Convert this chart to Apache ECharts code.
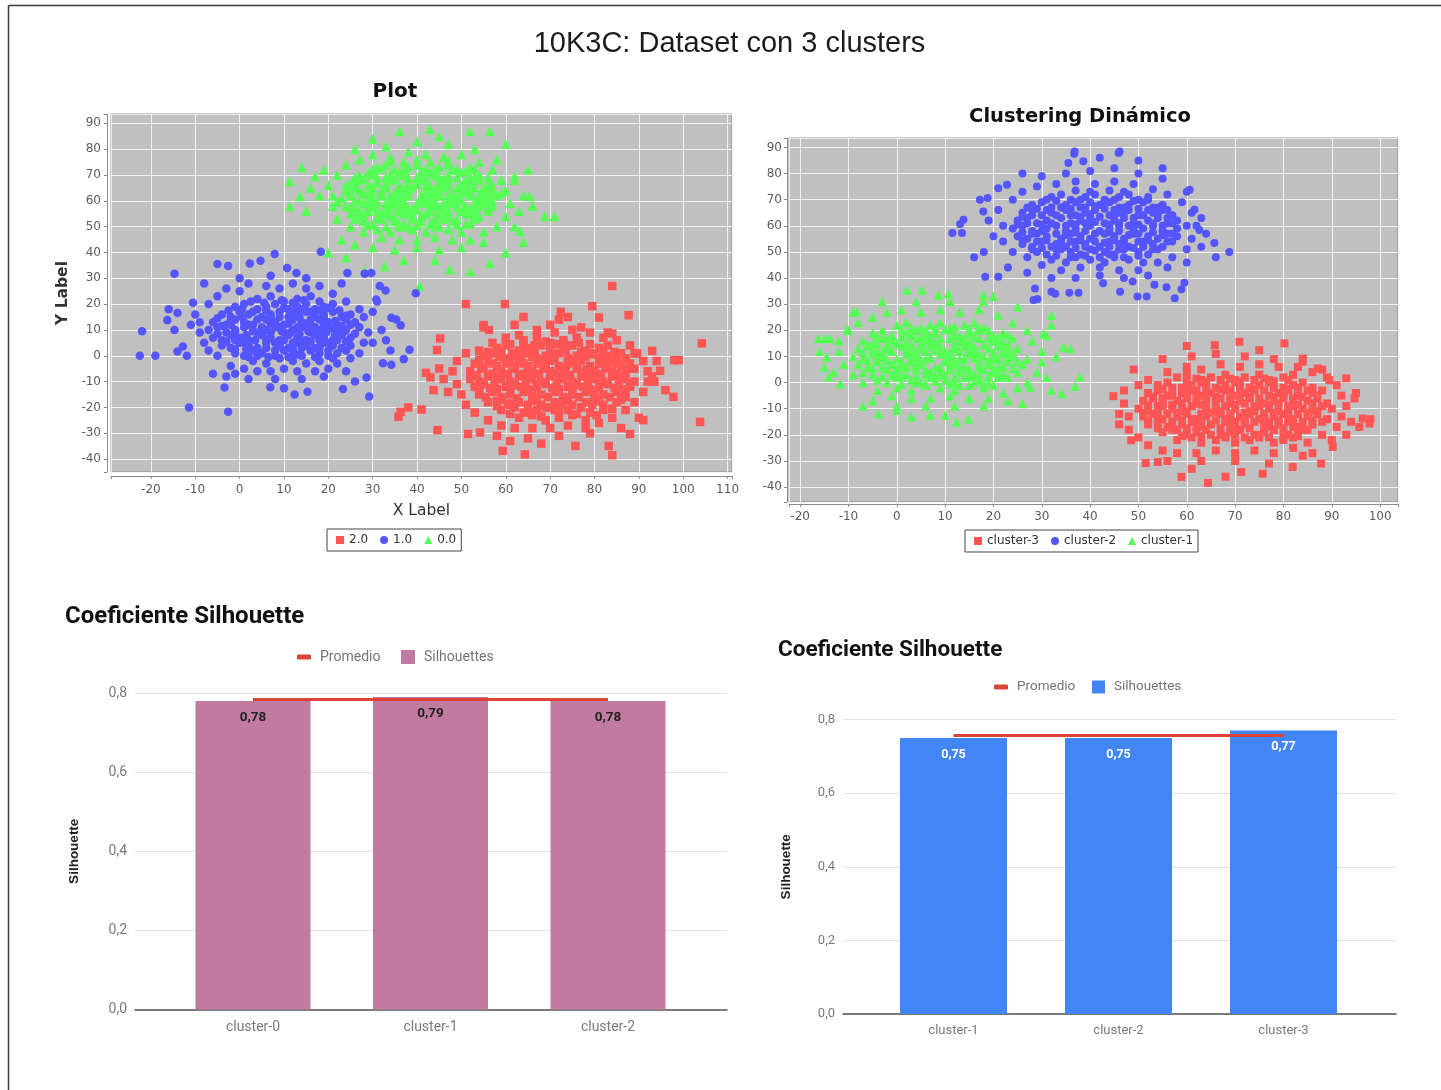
<!DOCTYPE html>
<html>
<head>
<meta charset="utf-8">
<title>10K3C: Dataset con 3 clusters</title>
<script src="https://cdn.jsdelivr.net/npm/echarts@6/dist/echarts.min.js"></script>
<style>
  html, body { margin: 0; padding: 0; background: #ffffff; }
  #chart { width: 1441px; height: 1090px; }
</style>
</head>
<body>
<div id="chart"></div>
<script>
// ---------- texts ----------
const mainTitle = '10K3C: Dataset con 3 clusters';
const plotTitle = 'Plot';
const dynTitle = 'Clustering Dinámico';
const silTitle = 'Coeficiente Silhouette';

// ---------- "Plot": labelled dataset ----------
const plotNames = ['2.0', '1.0', '0.0'];

const plotRed = [
  [64,6],[67,7],[70,5],[73,6],[76,7],
  [58,3],[60,4],[63,2],[65,3],[68,4],[70,2],[73,3],[75,4],[78,2],[81,3],[83,4],
  [55,0],[57,1],[60,-1],[62,0],[65,1],[67,-1],[69,0],[72,1],[74,-1],[76,0],[79,1],[81,-1],[83,0],[86,1],
  [53,-3],[56,-2],[58,-4],[60,-3],[63,-2],[65,-4],[67,-3],[70,-2],[72,-4],[74,-3],[77,-2],[79,-4],[81,-3],[84,-2],[86,-4],[88,-3],
  [52,-6],[55,-5],[57,-7],[59,-6],[62,-5],[64,-7],[66,-6],[69,-5],[71,-7],[73,-6],[76,-5],[78,-7],[80,-6],[83,-5],[85,-7],[87,-6],[89,-5],
  [52,-9],[54,-10],[56,-8],[59,-9],[61,-10],[63,-8],[66,-9],[68,-10],[70,-8],[73,-9],[75,-10],[77,-8],[80,-9],[82,-10],[84,-8],[87,-9],[89,-10],
  [53,-12],[55,-11],[58,-13],[60,-12],[62,-11],[65,-13],[67,-12],[69,-11],[72,-13],[74,-12],[76,-11],[79,-13],[81,-12],[83,-11],[86,-13],[88,-12],
  [54,-15],[57,-14],[59,-16],[61,-15],[64,-14],[66,-16],[68,-15],[71,-14],[73,-16],[75,-15],[78,-14],[80,-16],[82,-15],[85,-14],[87,-16],
  [56,-18],[59,-17],[61,-19],[63,-18],[66,-17],[68,-19],[71,-18],[73,-17],[75,-19],[78,-18],[80,-17],[82,-19],[85,-18],
  [59,-21],[62,-20],[64,-22],[67,-21],[69,-20],[72,-22],[74,-21],[77,-20],[79,-22],[82,-21],
  [63,-24],[66,-23],[69,-25],[72,-24],[75,-23],[78,-25],
  [61,4.5],[64,5],[66.5,4],[69,5.5],[71.5,4.5],[74,4],[76.5,5],[79,4.5],
  [56,1.5],[59,2],[61.5,1],[64,2.5],[66.5,1.5],[71,0.5],[73.5,2],[77,1.5],[80,0.5],[82,2],[84.5,1.5],
  [54,-1.5],[58.5,-0.5],[61,-2],[63.5,-1],[66,-0.5],[68.5,-2],[71,-1],[75.5,-2],[78,-0.5],[82.5,-1.5],[85,-0.5],[87,-1],
  [54.5,-4.5],[57,-3],[61.5,-4.5],[64,-3],[68.5,-4],[73.5,-5],[76,-3.5],[78,-5.5],[82.5,-4],[85,-3],[87.5,-5],
  [53.5,-7.5],[58,-8],[60.5,-7],[65,-8],[67.5,-7],[70,-6],[72,-8],[74.5,-7.5],[79,-8],[81.5,-7],[84,-6],[86,-8],
  [55,-10.5],[57.5,-11],[62,-11.5],[64.5,-10],[67,-11],[71.5,-10.5],[76,-11.5],[78.5,-10],[81,-11],[85.5,-10],[88,-11],
  [54,-13.5],[56.5,-12.5],[61,-13.5],[63.5,-12],[66,-14],[70.5,-12.5],[75,-13.5],[77.5,-12],[80,-14],[84.5,-12.5],[87,-14],
  [55.5,-16],[58,-17.5],[62.5,-16.5],[67,-17.5],[69.5,-16],[74,-17.5],[76.5,-16],[81,-17.5],[83.5,-16],[86,-17],
  [58,-19.5],[60.5,-18.5],[65,-19],[70,-20],[72.5,-19],[77,-20],[79.5,-19],[84,-20.5],
  [61,-22.5],[65.5,-22],[68,-23.5],[71,-21],[76,-22.5],[80.5,-23],
  [49,-2],[48,-6],[49,-11],[50,-15],[51,-19],[53,-22],[56,-25],[59,-27],[62,-28],[66,-28],[70,-28],[74,-27],[78,-28],[81,-26],
  [84,-24],[87,-21],[89,-18],[91,-14],[92,-10],[92,-6],[91,-2],[89,1],[88,4],[85,6],[82,7],[79,9],[75,10],[71,9],[67,10],
  [63,8],[60,7],[57,5],[54,2],[51,1],[55,11],[62,12],[70,12],[77,11],[83,9],[47,-14],[46,-9],[58,-31],[65,-32],[72,-31],
  [79,-30],[86,-28],[93,-8],[94,-2],[90,-24],[64,15],[74,15],
  [84,27],[51,20],[59.8,20],[79.5,19.2],[72.4,17],[87.7,15.7],[104.2,4.8],[45.2,6.7],[44.5,2.2],[45,-4.9],[42,-6.6],
  [43,-8.4],[43.7,-13.3],[41,-20.8],[36.3,-21.7],[35.8,-23.6],[44.6,-28.8],[51.5,-30.3],[54.2,-29.7],[59.3,-36.8],
  [64.3,-38.2],[75.7,-34.9],[83.2,-34.9],[84,-38.5],[88,-30.3],[103.8,-25.6],[98,-1.7],[99,-1.7],[94.8,-5.8],[96,-13.3],
  [97.8,-15.9],[93,1.9],[89.6,0.9],[93.5,-10],[91,-24.9],[55,11.9],[56.2,10],[81,14.8],[84,8.6],[68,-34],[61,-33],
  [38,-20],[72,14]
];

const plotBlue = [
  [4,22],[7,23],[10,21],[13,22],[16,23],
  [-1,19],[1,20],[4,18],[6,19],[8,20],[11,18],[13,19],[15,20],[17,18],[19,19],[21,20],
  [-4,16],[-2,15],[0,17],[2,16],[5,15],[7,16],[9,17],[11,15],[13,16],[15,17],[17,15],[19,16],[21,17],[23,15],[25,16],
  [-6,13],[-3,12],[-1,14],[1,13],[3,12],[6,14],[8,13],[10,12],[12,14],[14,13],[16,12],[18,14],[20,13],[22,12],[24,14],[26,13],
  [-7,10],[-5,11],[-3,9],[-1,10],[1,11],[4,9],[6,10],[8,11],[10,9],[12,10],[14,11],[16,9],[18,10],[20,11],[22,9],[24,10],[27,11],
  [-6,7],[-4,6],[-2,8],[0,7],[2,6],[5,8],[7,7],[9,6],[11,8],[13,7],[15,6],[17,8],[19,7],[21,6],[23,8],[25,7],
  [-4,4],[-2,3],[0,5],[2,4],[4,3],[6,5],[9,4],[11,3],[13,5],[15,4],[17,3],[19,5],[21,4],[23,3],[25,4],
  [-1,1],[1,0],[3,2],[5,1],[8,0],[10,2],[12,1],[14,0],[16,2],[18,1],[20,0],[22,1],
  [3,-2],[6,-3],[9,-1],[12,-2],[15,-3],[18,-2],
  [2.5,21],[5.5,20.5],[9.5,21.5],[12,20.5],[14.5,21.5],[18,21],
  [-2.5,17.5],[0.5,18],[3,17],[6,17.5],[10,18.5],[12,17],[14,18],[16,17],[18,17.5],[20,18.5],[22.5,17.5],
  [-5,14.5],[-2,13.5],[0.5,15],[4,14],[7,14.5],[9,15],[11.5,13.5],[13.5,15],[16,14],[19,15],[21.5,13.5],[24,15.5],
  [-4,11.5],[-2,12],[2,12],[5,11],[7,12.5],[9,11],[11,12.5],[13,11],[15,12.5],[17,11],[19,12],[21,10.5],[23,11.5],[25,12],
  [-5,8.5],[-1,9],[1.5,8],[3,9.5],[5,9.5],[7,9],[9.5,9.5],[11.5,9],[13.5,8.5],[15.5,9.5],[17.5,8.5],[19.5,9],[21.5,8],[23.5,9.5],[26,8.5],
  [-3,5.5],[-1,6],[1,5],[3.5,6],[6,6.5],[8,5],[10,6],[12,5],[14,6],[16,5.5],[18,6],[20,5],[22,6],[24,5.5],
  [-1,2.5],[1.5,2.5],[6,3],[8,2],[12,2.5],[14,3],[18,3],[20,2],[24,2],
  [2,-0.5],[4,0],[6.5,-0.5],[11,-0.5],[13,0.5],[17,-0.5],[21,-1],
  [-9,13],[-8,5],[-9,9],[-10,16],[-7,20],[-5,23],[-3,26],[0,25],[2,28],[6,27],[9,26],[12,28],[15,26],[18,27],[21,24],
  [24,21],[27,18],[28,15],[29,9],[28,5],[27,1],[25,-1],[22,-3],[20,-5],[17,-6],[13,-6],[10,-5],[7,-6],[4,-6],[1,-5],
  [-2,-4],[-5,0],[-7,2],[-3,-8],[2,-9],[8,-9],[14,-9],[19,-8],[-11,12],[30,17],[31,21],[30,5],[32,10],[-1,-7],[24,-6],
  [0,30],[7,31],[15,30],[23,28],
  [-22.5,0],[-22,9.5],[-19,0],[-14.7,31.8],[-16,18],[-14,16.6],[-16.3,13.8],[-14.7,10],[-14,1.7],[-12.8,3.6],[-11.9,0],
  [-10.5,20.5],[-8,28],[-5,35.5],[-2.6,34.8],[2.3,35.7],[4.7,36.8],[7.9,39.4],[10.7,34],[12.8,32],[18.3,40.3],[24.3,32],
  [28.2,31.8],[29.7,32],[31.6,27],[32.9,25.3],[30.8,21.8],[34.2,14.7],[35.3,14],[36.3,11.8],[38.3,2.3],[37,-1.3],
  [34.2,-3.5],[32.3,-2.9],[29.2,-15.8],[28.6,-8.4],[26,-10],[23.3,-12.9],[15.3,-13.9],[12.4,-15],[10,-12.6],[6.9,-12.2],
  [-3.4,-12.3],[-11.4,-20],[-2.6,-21.7],[39.7,24.2],[-6,-7],[34,2],[33,6]
];

const plotGreen = [
  [31,73],[33,74],[35,72],[38,73],[40,74],[42,72],[45,73],[47,74],[49,72],[52,73],
  [27,70],[29,71],[31,69],[34,70],[36,71],[38,69],[41,70],[43,71],[45,69],[47,70],[50,71],[52,69],[54,70],
  [25,67],[27,68],[29,66],[31,67],[34,68],[36,66],[38,67],[41,68],[43,66],[45,67],[47,68],[50,66],[52,67],[54,68],[56,66],
  [24,64],[26,65],[28,63],[30,64],[33,65],[35,63],[37,64],[39,65],[42,63],[44,64],[46,65],[48,63],[51,64],[53,65],[55,63],[57,64],
  [23,61],[25,62],[27,60],[30,61],[32,62],[34,60],[36,61],[38,62],[41,60],[43,61],[45,62],[47,60],[49,61],[52,62],[54,60],[56,61],[58,62],
  [24,58],[26,57],[28,59],[30,58],[33,57],[35,59],[37,58],[39,57],[42,59],[44,58],[46,57],[48,59],[51,58],[53,57],[55,59],[57,58],
  [25,55],[27,54],[29,56],[32,55],[34,54],[36,56],[38,55],[41,54],[43,56],[45,55],[47,54],[50,56],[52,55],[54,54],[56,56],
  [28,52],[30,51],[32,53],[35,52],[37,51],[39,53],[41,52],[44,51],[46,53],[48,52],[51,51],[53,53],
  [31,49],[34,48],[36,50],[39,49],[42,48],[44,50],[47,49],[50,48],
  [34,75.5],[37,75],[40,76],[43,75],[47,75.5],
  [30,72],[32,72.5],[37,72],[41,71.5],[44,72],[48,72],[51,71.5],[53,72],
  [26,69],[28,68.5],[30,70],[33,69],[35,68.5],[37,70],[40,69],[42,68.5],[44,70],[46,68.5],[49,69],[51,67.5],[53,69],[56,69],
  [24,66],[26,66.5],[30,65.5],[33,66.5],[36,65],[38,65.5],[40,66.5],[42,65.5],[45,65],[47,66],[49,65],[51,66],[55,65],[57,66],
  [25,63],[27,64],[29,62.5],[32,63.5],[34,62],[36,63],[38,64],[41,62],[43,63],[45,63.5],[47,62],[50,63],[52,63.5],[54,62],[56,63],[59,63],
  [22,59.5],[26,60],[29,60],[31,59.5],[33,59],[35,61],[37,60],[40,59],[42,61],[44,60],[46,59],[48,61],[50,60],[53,59.5],[55,60.5],[57,60],
  [25,57.5],[27,56],[29,57.5],[31,56.5],[34,57],[36,58],[38,57],[40,56.5],[43,58],[45,57],[47,56],[49,57.5],[52,56.5],[54,58],[56,57.5],
  [26,53],[28,54.5],[31,53.5],[33,55],[35,53.5],[37,55],[39,54],[42,55],[44,53],[46,54],[49,53],[51,55],[53,54.5],
  [29,50.5],[33,50],[36,51],[38,50],[40,50.5],[43,51],[45,50],[49,50.5],[52,51],
  [20,66],[21,58],[22,70],[24,74],[27,76],[30,78],[34,77],[38,79],[42,78],[46,77],[50,78],[54,75],[57,72],[59,68],[60,64],
  [61,59],[60,54],[58,50],[55,48],[52,45],[48,45],[44,46],[40,45],[36,45],[32,46],[28,48],[25,50],[22,53],[21,62],[23,45],
  [26,43],[30,42],[35,41],[40,42],[45,41],[50,42],[55,44],[62,50],[63,56],[64,62],[62,68],[58,76],[33,81],[40,83],[47,82],
  [53,80],[18,62],[19,72],[26,80],
  [11.3,57.9],[11.3,67.6],[13.6,61.8],[17,69.5],[15,56],[16,65],[14,73],[36.1,86.9],[42.9,87.7],[51.9,86.9],[56.4,86.9],
  [45,85],[30,84],[60,82],[28.2,32.7],[32.7,34.7],[40.6,27],[47.4,33.5],[52,32.7],[56.4,35.8],[37,37],[44,37],[60,40],
  [68.8,54],[71,54],[65.4,61.8],[63.2,48.2],[62,69.5],[66,58],[65,72],[20,40],[24,38],[64,44]
];

// ---------- "Clustering Dinámico": found clusters ----------
const dynNames = ['cluster-3', 'cluster-2', 'cluster-1'];

const dynRed = [
  [58,2],[60,3],[63,1],[65,2],[68,3],[70,1],[72,2],[75,3],[77,1],[80,2],[82,3],
  [54,-1],[56,0],[59,-2],[61,-1],[63,0],[66,-2],[68,-1],[70,0],[73,-2],[75,-1],[77,0],[80,-2],[82,-1],[84,0],[86,-2],
  [52,-4],[54,-3],[56,-5],[59,-4],[61,-3],[63,-5],[65,-4],[68,-3],[70,-5],[72,-4],[74,-3],[77,-5],[79,-4],[81,-3],[83,-5],[86,-4],[88,-3],
  [51,-7],[53,-6],[55,-8],[58,-7],[60,-6],[62,-8],[64,-7],[67,-6],[69,-8],[71,-7],[73,-6],[76,-8],[78,-7],[80,-6],[82,-8],[85,-7],[87,-6],[89,-8],
  [50,-10],[52,-11],[55,-9],[57,-10],[59,-11],[61,-9],[64,-10],[66,-11],[68,-9],[70,-10],[73,-11],[75,-9],[77,-10],[79,-11],[82,-9],[84,-10],[86,-11],[88,-9],[90,-10],
  [51,-13],[53,-12],[55,-14],[58,-13],[60,-12],[62,-14],[64,-13],[67,-12],[69,-14],[71,-13],[73,-12],[76,-14],[78,-13],[80,-12],[82,-14],[85,-13],[87,-12],[89,-14],
  [52,-16],[54,-15],[56,-17],[59,-16],[61,-15],[63,-17],[65,-16],[68,-15],[70,-17],[72,-16],[74,-15],[77,-17],[79,-16],[81,-15],[83,-17],[86,-16],[88,-15],
  [55,-19],[57,-18],[60,-20],[62,-19],[64,-18],[67,-20],[69,-19],[71,-18],[74,-20],[76,-19],[78,-18],[81,-20],[83,-19],[85,-18],
  [58,-22],[61,-21],[63,-23],[66,-22],[68,-21],[70,-23],[73,-22],[75,-21],[78,-23],[80,-22],[82,-21],
  [60,0.5],[62,1.5],[64,0.5],[67,1],[69,1.5],[71,0.5],[74,1],[76,1.5],[78,0.5],[81,1],
  [55,-2.5],[57,-2],[60,-2.5],[62,-3],[64,-2],[67,-2.5],[69,-3],[71,-2],[74,-2.5],[76,-3],[78,-2],[81,-2.5],[83,-2],[85,-3],
  [53,-5.5],[55,-6],[57,-5],[60,-5.5],[62,-6],[64,-5],[66,-5.5],[69,-6],[71,-5],[73,-5.5],[75,-6],[78,-5.5],[80,-5],[82,-6],[84,-5.5],[87,-5],
  [52,-8.5],[54,-9],[57,-8.5],[59,-8],[61,-9],[63,-8.5],[66,-8],[68,-9],[70,-8.5],[72,-8],[74,-9],[77,-8.5],[79,-8],[81,-9],[83,-8.5],[86,-8],[88,-9],
  [51,-11.5],[54,-11],[56,-12],[58,-11.5],[60,-11],[63,-12],[65,-11.5],[67,-11],[69,-12],[72,-11.5],[74,-11],[76,-12],[78,-11.5],[81,-11],[83,-12],[85,-11.5],[87,-11],
  [52,-14.5],[54,-14],[57,-15],[59,-14.5],[61,-14],[63,-15],[66,-14.5],[68,-14],[70,-15],[72,-14.5],[75,-14],[77,-15],[79,-14.5],[81,-14],[84,-15],[86,-14.5],
  [54,-17.5],[58,-18],[60,-17.5],[62,-17],[64,-18],[67,-17.5],[69,-17],[71,-18],[73,-17.5],[76,-17],[78,-18],[80,-17.5],[82,-17],[84,-18],
  [59,-20.5],[63,-20.5],[65,-20],[68,-20.5],[70,-20],[72,-21],[75,-20],[77,-21],[80,-20.5],[83,-20.5],
  [47,-3],[47,-8],[48,-13],[48,-18],[50,-21],[52,-24],[55,-26],[58,-27],[62,-27],[66,-26],[70,-27],[74,-26],[78,-27],[82,-25],
  [85,-23],[88,-20],[91,-17],[92,-13],[93,-9],[92,-5],[91,-1],[89,2],[86,4],[83,6],[79,6],[75,7],[71,6],[67,7],[63,5],
  [60,6],[56,4],[52,1],[50,-1],[55,9],[61,10],[66,11],[72,10],[78,9],[84,8],[90,-22],[94,-15],[95,-4],[56,-30],[63,-30],
  [70,-30],[77,-31],[84,-28],[46,-16],[49,5],[88,5],
  [44.8,-5.2],[48.5,-22.1],[51.5,-30.8],[54,-30.4],[58.9,-36.1],[64.4,-38.4],[70.9,15.6],[65.8,14.3],[75,12.4],[80.2,15],
  [84,9.2],[87.1,5.4],[89.5,0.9],[93,1.6],[94.7,-6.1],[96.4,-13.8],[97.8,-15.7],[95.7,-17],[87.8,-31],[81.9,-32.3],
  [75.7,-34.9],[71.3,-34.2],[90.2,-24.6],[98,-14],[60,14],[68,-36],[46,-12],[93,-20],[61,-33],[86,-27]
];

const dynBlue = [
  [32,71],[34,72],[36,70],[39,71],[41,72],[43,70],[46,71],[48,72],[50,70],[52,71],
  [28,68],[30,69],[32,67],[35,68],[37,69],[39,67],[42,68],[44,69],[46,67],[48,68],[51,69],[53,67],[55,68],
  [26,65],[28,66],[30,64],[32,65],[35,66],[37,64],[39,65],[41,66],[44,64],[46,65],[48,66],[50,64],[53,65],[55,66],[57,64],
  [25,62],[27,63],[29,61],[31,62],[34,63],[36,61],[38,62],[40,63],[43,61],[45,62],[47,63],[49,61],[52,62],[54,63],[56,61],[58,62],
  [24,59],[26,60],[28,58],[31,59],[33,60],[35,58],[37,59],[40,60],[42,58],[44,59],[46,60],[49,58],[51,59],[53,60],[55,58],[58,59],[60,60],
  [25,56],[27,55],[29,57],[31,56],[34,55],[36,57],[38,56],[40,55],[43,57],[45,56],[47,55],[49,57],[52,56],[54,55],[56,57],[58,56],
  [26,53],[28,52],[30,54],[33,53],[35,52],[37,54],[39,53],[42,52],[44,54],[46,53],[48,52],[51,54],[53,53],[55,52],[57,54],
  [29,50],[31,49],[33,51],[36,50],[38,49],[40,51],[43,50],[45,49],[47,51],[50,50],[52,49],[54,51],
  [32,47],[35,46],[37,48],[40,47],[43,46],[45,48],[48,47],[51,46],
  [37,73.5],[40,73],[44,73.5],[47,73],
  [31,70],[33,69.5],[38,70],[40,69],[43,69.5],[45,70],[49,69.5],[52,70],
  [27,67],[29,66.5],[31,66],[34,67],[36,66.5],[38,67],[41,67.5],[43,66.5],[45,66],[47,67],[50,66.5],[52,66],[54,67],[56,66],
  [26,63.5],[28,64],[33,64],[36,64],[38,63.5],[40,64.5],[42,63.5],[45,64],[47,64.5],[49,63],[51,64],[54,64.5],[56,63],
  [25,60.5],[27,61],[30,60.5],[32,61],[35,60],[37,60.5],[39,61],[41,61.5],[44,60.5],[46,61],[48,60],[50,60.5],[53,61],[55,60],[57,61],
  [26,57.5],[28,57],[30,58],[33,57],[35,56.5],[37,57.5],[39,58],[41,57],[44,57.5],[46,58],[48,56.5],[50,57],[53,57.5],[55,56.5],[57,57],
  [26,54.5],[29,54],[31,54.5],[34,53.5],[36,54],[38,54.5],[41,54],[43,53.5],[45,54.5],[47,54],[50,54],[52,54.5],[56,54],
  [28,51],[30,51.5],[32,52],[34,51],[37,51.5],[39,52],[41,50.5],[44,52],[46,51],[49,51.5],[51,52],[53,51],
  [33,48.5],[36,48],[39,48.5],[42,48],[44,49],[47,48],[50,48.5],
  [21,66],[22,60],[22,54],[24,70],[26,73],[29,75],[33,76],[37,77],[41,76],[45,77],[49,76],[53,74],[56,72],[59,69],[61,65],
  [62,60],[61,55],[60,51],[57,48],[54,46],[50,43],[46,43],[42,44],[38,44],[34,43],[30,45],[27,48],[24,50],[20,56],[23,44],
  [27,42],[32,40],[37,40],[42,41],[47,40],[52,41],[56,44],[60,46],[63,52],[64,57],[63,63],[60,73],[35,80],[40,81],[45,82],
  [50,80],[55,78],[30,79],[19,62],[18,50],
  [11.5,57.2],[13.5,57.2],[13.1,60.7],[13.8,62.3],[17.2,70],[18.8,70.6],[17.9,65.5],[18.3,40.5],[21,40.5],[21,74.4],
  [22.8,75.7],[36.7,87.6],[45.9,87.9],[35.5,84],[38.6,84.7],[28.3,31.6],[29.1,32],[28.6,36],[32,34.8],[32.8,34],[35.7,34.4],
  [37.6,34.4],[46.2,34.8],[49.8,32.9],[42.7,38],[51.7,32.9],[57.5,32.3],[58.9,35.7],[59.5,38.2],[48.8,38.7],[53.3,37.4],
  [55.8,36.5],[68.8,50],[65.7,53.4],[62.6,58.4],[61.6,66.1],[60.6,73.8],[36.8,88.4],[46.1,88.4],[42,86],[50,85],[55,82],
  [26,80],[16,48],[66,48]
];

const dynGreen = [
  [0,22],[2,23],[5,21],[7,22],[9,23],[11,21],[14,22],[16,23],[18,21],
  [-5,19],[-3,20],[-1,18],[2,19],[4,20],[6,18],[8,19],[11,20],[13,18],[15,19],[17,20],[20,18],[22,19],
  [-7,16],[-5,15],[-3,17],[-1,16],[2,15],[4,17],[6,16],[8,15],[11,17],[13,16],[15,15],[17,17],[20,16],[22,15],[24,17],
  [-8,13],[-6,14],[-4,12],[-2,13],[1,14],[3,12],[5,13],[7,14],[10,12],[12,13],[14,14],[16,12],[19,13],[21,14],[23,12],[25,13],
  [-9,10],[-7,9],[-5,11],[-3,10],[0,9],[2,11],[4,10],[6,9],[9,11],[11,10],[13,9],[15,11],[18,10],[20,9],[22,11],[24,10],[27,9],
  [-8,7],[-6,6],[-4,8],[-1,7],[1,6],[3,8],[5,7],[8,6],[10,8],[12,7],[14,6],[17,8],[19,7],[21,6],[23,8],[26,7],
  [-7,4],[-5,3],[-2,5],[0,4],[2,3],[4,5],[7,4],[9,3],[11,5],[13,4],[16,3],[18,5],[20,4],[22,3],[25,4],
  [-4,1],[-2,0],[0,2],[3,1],[5,0],[7,2],[10,1],[12,0],[14,2],[17,1],[19,0],[21,2],
  [0,-2],[3,-3],[6,-1],[9,-2],[12,-3],[15,-1],[18,-2],
  [1,20.5],[3,21],[6,20],[8,21],[10,20.5],[12,21.5],[15,20.5],[17,21],[19,20],
  [-4,17.5],[-2,17],[1,17.5],[3,18],[5,17],[7,17.5],[9,17],[12,18],[14,17],[16,17.5],[19,17],[21,17.5],[23,18],
  [-6,14.5],[-4,15],[-2,14.5],[0,15],[3,14.5],[5,15],[7,16],[9,14],[12,14.5],[14,15.5],[16,14],[18,14.5],[21,15.5],[23,14.5],
  [-7,11.5],[-5,12.5],[-3,11.5],[-1,12],[2,12.5],[4,11.5],[6,12],[8,12.5],[11,11.5],[13,12],[15,12.5],[17,11],[20,11.5],[22,12.5],[24,11.5],
  [-6,8.5],[-4,9.5],[-2,8.5],[1,8],[3,9.5],[5,8.5],[7,9.5],[10,9],[12,8.5],[14,9],[16,9.5],[19,8.5],[21,9],[23,9.5],[25,8],
  [-5,5.5],[-3,6],[0,5.5],[2,6],[4,6.5],[6,5],[9,5.5],[11,6.5],[13,5.5],[15,5],[17,6],[20,5.5],[22,6],[24,5.5],
  [-3,2.5],[-1,3],[1,2.5],[4,2.5],[6,3],[8,2.5],[10,3],[12,2],[15,2.5],[17,3],[19,2.5],[21,3.5],[23,2],
  [1,-0.5],[4,0],[6,-0.5],[8,0.5],[11,-0.5],[13,-1],[16,0],[18,-0.5],[20,-1],
  [-12,12],[-11,7],[-12,16],[-10,20],[-8,23],[-5,25],[-2,27],[1,28],[5,27],[9,28],[13,27],[17,28],[21,26],[24,23],[27,20],
  [28,16],[30,12],[30,8],[29,4],[27,0],[25,-2],[22,-4],[19,-6],[15,-6],[11,-5],[7,-6],[3,-6],[-1,-5],[-4,-3],[-7,0],
  [-9,3],[-5,-7],[0,-9],[6,-9],[12,-9],[18,-9],[23,-7],[-13,4],[31,18],[32,22],[31,2],[33,10],[-3,31],[4,31],[11,31],
  [18,31],[25,29],[-9,27],
  [-16.2,16.9],[-14.8,16.9],[-13.8,16.9],[-14.5,9.8],[-14.1,2.2],[-11.7,-0.4],[-10.3,20.3],[-8.3,27.1],[2.1,35.4],[5.2,35.4],
  [8.6,33.5],[10.7,34.1],[17.9,33.5],[-3.8,-11.9],[0,-10.6],[6.9,-12.5],[10,-12.5],[12.4,-15.1],[14.8,-13.8],[32,25.8],
  [34.5,13.7],[35.9,13],[37.9,2.2],[36.9,-1.4],[34.1,-4.2],[32,-2.9],[27.6,-1.7],[30.3,18.8],[-16,12],[-15,6],[20,33],
  [26,-8],[-7,-9],[3,-13]
];

// ---------- silhouette bar charts ----------
const silNames = ['Promedio', 'Silhouettes'];
const silCatsA = ['cluster-0', 'cluster-1', 'cluster-2'];
const silValsA = [0.78, 0.79, 0.78];
const silCatsB = ['cluster-1', 'cluster-2', 'cluster-3'];
const silValsB = [0.75, 0.75, 0.77];

// ---------- helpers ----------
const mean = a => a.reduce((s, v) => s + v, 0) / a.length;
const comma = (v, d) => v.toFixed(d).replace('.', ',');
const tens = v => (Math.abs(v % 10) < 1e-6 ? String(v) : '');

const jFont = 'DejaVu Sans';
const gFont = 'Roboto';
const RED = '#ff5555', BLUE = '#5555ff', GREEN = '#55ff55';

function jAxis(gi, min, max, offset, margin, extra) {
  return Object.assign({
    type: 'value', gridIndex: gi, min: min, max: max, splitNumber: 14, offset: offset,
    axisLine: { show: true, onZero: false, lineStyle: { color: '#8c8c8c', width: 1 } },
    axisTick: { show: true, length: 3, lineStyle: { color: '#8c8c8c' } },
    axisLabel: { color: '#5c5c5c', fontFamily: jFont, fontSize: 12, margin: margin, formatter: tens },
    splitLine: { show: true, lineStyle: { color: 'rgba(255,255,255,0.8)', width: 1 } }
  }, extra || {});
}

function scatter(name, data, symbol, color, size, gi, z) {
  return {
    type: 'scatter', name: name, data: data, symbol: symbol, symbolSize: size,
    xAxisIndex: gi, yAxisIndex: gi, itemStyle: { color: color, opacity: 1 },
    silent: true, z: z, large: false
  };
}

function jLegend(left, top, names) {
  const icons = ['rect', 'circle', 'triangle'];
  return {
    left: left, top: top, orient: 'horizontal', selectedMode: false,
    data: names.map((n, i) => ({ name: n, icon: icons[i] })),
    itemWidth: 8, itemHeight: 8, itemGap: 12, padding: [5, 5, 5, 9],
    borderColor: '#444', borderWidth: 1, backgroundColor: '#fff',
    textStyle: { fontFamily: jFont, fontSize: 12, color: '#333' }
  };
}

function gLegend(left, top, name, icon, color, w, h, fs) {
  return {
    left: left, top: top, selectedMode: false, padding: 0,
    data: [{ name: name, icon: icon, itemStyle: { color: color } }],
    itemWidth: w, itemHeight: h,
    textStyle: { fontFamily: gFont, fontSize: fs, color: '#757575', lineHeight: 16, padding: [0, 0, 0, 4] }
  };
}

// value axis that carries gridlines, tick labels and the name of a bar panel
function gValueAxis(gi, fs, gap) {
  return {
    type: 'value', gridIndex: gi, min: 0, max: 0.8, interval: 0.2,
    axisLine: { show: false }, axisTick: { show: false },
    axisLabel: { color: '#7a7a7a', fontFamily: gFont, fontSize: fs, margin: 8, formatter: v => comma(v, 1) },
    splitLine: { show: true, lineStyle: { color: '#e3e3e3', width: 1 } },
    name: 'Silhouette', nameLocation: 'middle', nameGap: gap,
    nameTextStyle: { fontFamily: 'Liberation Sans', fontWeight: 'bold', fontSize: 13.5, color: '#222' }
  };
}
function gBaseAxis(gi) {
  return {
    type: 'value', gridIndex: gi, min: 0, max: 1,
    axisLine: { show: true, onZero: false, lineStyle: { color: '#555', width: 1.5 } },
    axisTick: { show: false }, axisLabel: { show: false }, splitLine: { show: false }
  };
}
function gCatAxis(gi, cats, fs, margin) {
  return {
    type: 'category', gridIndex: gi, data: cats,
    axisLine: { show: false }, axisTick: { show: false },
    axisLabel: { color: '#7a7a7a', fontFamily: gFont, fontSize: fs, margin: margin },
    splitLine: { show: false }
  };
}
function gHiddenY(gi) {
  return { type: 'value', gridIndex: gi, min: 0, max: 0.8, show: false };
}
function barSeries(gi, vals, color, width, labelColor, fs) {
  return {
    type: 'bar', name: silNames[1], xAxisIndex: gi, yAxisIndex: gi, data: vals,
    barWidth: width, itemStyle: { color: color }, silent: true, z: 2,
    label: {
      show: true, position: 'insideTop', distance: 10, color: labelColor,
      fontFamily: gFont, fontWeight: 'bold', fontSize: fs,
      formatter: p => comma(p.value, 2)
    }
  };
}
function avgSeries(gi, cats, vals) {
  const m = mean(vals);
  return {
    type: 'line', name: silNames[0], xAxisIndex: gi, yAxisIndex: gi,
    data: cats.map(() => m), symbol: 'none', silent: true, z: 5,
    lineStyle: { color: '#db4437', width: 3 }
  };
}

const chart = echarts.init(document.getElementById('chart'), null, { renderer: 'canvas' });

const option = {
  backgroundColor: '#ffffff',
  animation: false,
  grid: [
    { left: 111, top: 114, width: 621, height: 358, show: true, backgroundColor: '#c0c0c0', borderColor: '#8a8a8a', borderWidth: 1 },
    { left: 789, top: 138, width: 609, height: 364, show: true, backgroundColor: '#c0c0c0', borderColor: '#8a8a8a', borderWidth: 1 },
    { left: 135, top: 693, width: 592, height: 316.5 },
    { left: 164.25, top: 693, width: 532.5, height: 316.5 },
    { left: 843, top: 719.5, width: 553, height: 294.5 },
    { left: 871, top: 719.5, width: 495, height: 294.5 }
  ],
  xAxis: [
    jAxis(0, -29, 111, 4, 8, {
      name: 'X Label', nameLocation: 'middle', nameGap: 27,
      nameTextStyle: { fontFamily: jFont, fontSize: 15.5, color: '#333' }
    }),
    jAxis(1, -22.3, 103.7, 2, 7),
    gBaseAxis(2),
    gCatAxis(3, silCatsA, 14, 11),
    gBaseAxis(4),
    gCatAxis(5, silCatsB, 13, 10)
  ],
  yAxis: [
    jAxis(0, -45, 93.6, 4, 6, {
      name: 'Y Label', nameLocation: 'middle', nameGap: 36,
      nameTextStyle: { fontFamily: jFont, fontWeight: 'bold', fontSize: 15.5, color: '#333' }
    }),
    jAxis(1, -45.7, 93.6, 2, 5),
    gValueAxis(2, 14, 54),
    gHiddenY(3),
    gValueAxis(4, 13, 50),
    gHiddenY(5)
  ],
  legend: [
    jLegend(327, 529, plotNames),
    jLegend(965, 530, dynNames),
    gLegend(297, 649, silNames[0], 'roundRect', '#db4437', 14, 5, 14),
    gLegend(401, 649, silNames[1], 'rect', '#c27ba0', 14, 14, 14),
    gLegend(994, 679, silNames[0], 'roundRect', '#db4437', 14, 5, 13.5),
    gLegend(1092, 679, silNames[1], 'rect', '#4285f4', 13, 13, 13.5)
  ],
  series: [
    scatter(plotNames[2], plotGreen, 'triangle', GREEN, 10, 0, 2),
    scatter(plotNames[1], plotBlue, 'circle', BLUE, 8.5, 0, 3),
    scatter(plotNames[0], plotRed, 'rect', RED, 8.5, 0, 4),
    scatter(dynNames[2], dynGreen, 'triangle', GREEN, 9.5, 1, 2),
    scatter(dynNames[1], dynBlue, 'circle', BLUE, 8, 1, 3),
    scatter(dynNames[0], dynRed, 'rect', RED, 8, 1, 4),
    barSeries(3, silValsA, '#c27ba0', 115, '#212121', 13.5),
    avgSeries(3, silCatsA, silValsA),
    barSeries(5, silValsB, '#4285f4', 107, '#ffffff', 12.5),
    avgSeries(5, silCatsB, silValsB)
  ],
  graphic: [
    { type: 'line', silent: true, shape: { x1: 8.5, y1: 5.5, x2: 1441, y2: 5.5 }, style: { stroke: '#3a3a3a', lineWidth: 1.5 } },
    { type: 'line', silent: true, shape: { x1: 8.5, y1: 5.5, x2: 8.5, y2: 1090 }, style: { stroke: '#3a3a3a', lineWidth: 1.5 } },
    { type: 'text', silent: true, x: 729.5, y: 44,
      style: { text: mainTitle, font: '29px "Liberation Sans"', fill: '#1c1c1c', textAlign: 'center', textVerticalAlign: 'middle', align: 'center', verticalAlign: 'middle' } },
    { type: 'text', silent: true, x: 395, y: 92,
      style: { text: plotTitle, font: 'bold 20px "DejaVu Sans"', fill: '#111', textAlign: 'center', textVerticalAlign: 'middle', align: 'center', verticalAlign: 'middle' } },
    { type: 'text', silent: true, x: 1080, y: 117,
      style: { text: dynTitle, font: 'bold 19.5px "DejaVu Sans"', fill: '#111', textAlign: 'center', textVerticalAlign: 'middle', align: 'center', verticalAlign: 'middle' } },
    { type: 'text', silent: true, x: 65, y: 617,
      style: { text: silTitle, font: 'bold 24px Roboto', fill: '#111', textAlign: 'left', textVerticalAlign: 'middle', align: 'left', verticalAlign: 'middle' } },
    { type: 'text', silent: true, x: 778, y: 650,
      style: { text: silTitle, font: 'bold 22.5px Roboto', fill: '#111', textAlign: 'left', textVerticalAlign: 'middle', align: 'left', verticalAlign: 'middle' } }
  ]
};

chart.setOption(option);
</script>
</body>
</html>
